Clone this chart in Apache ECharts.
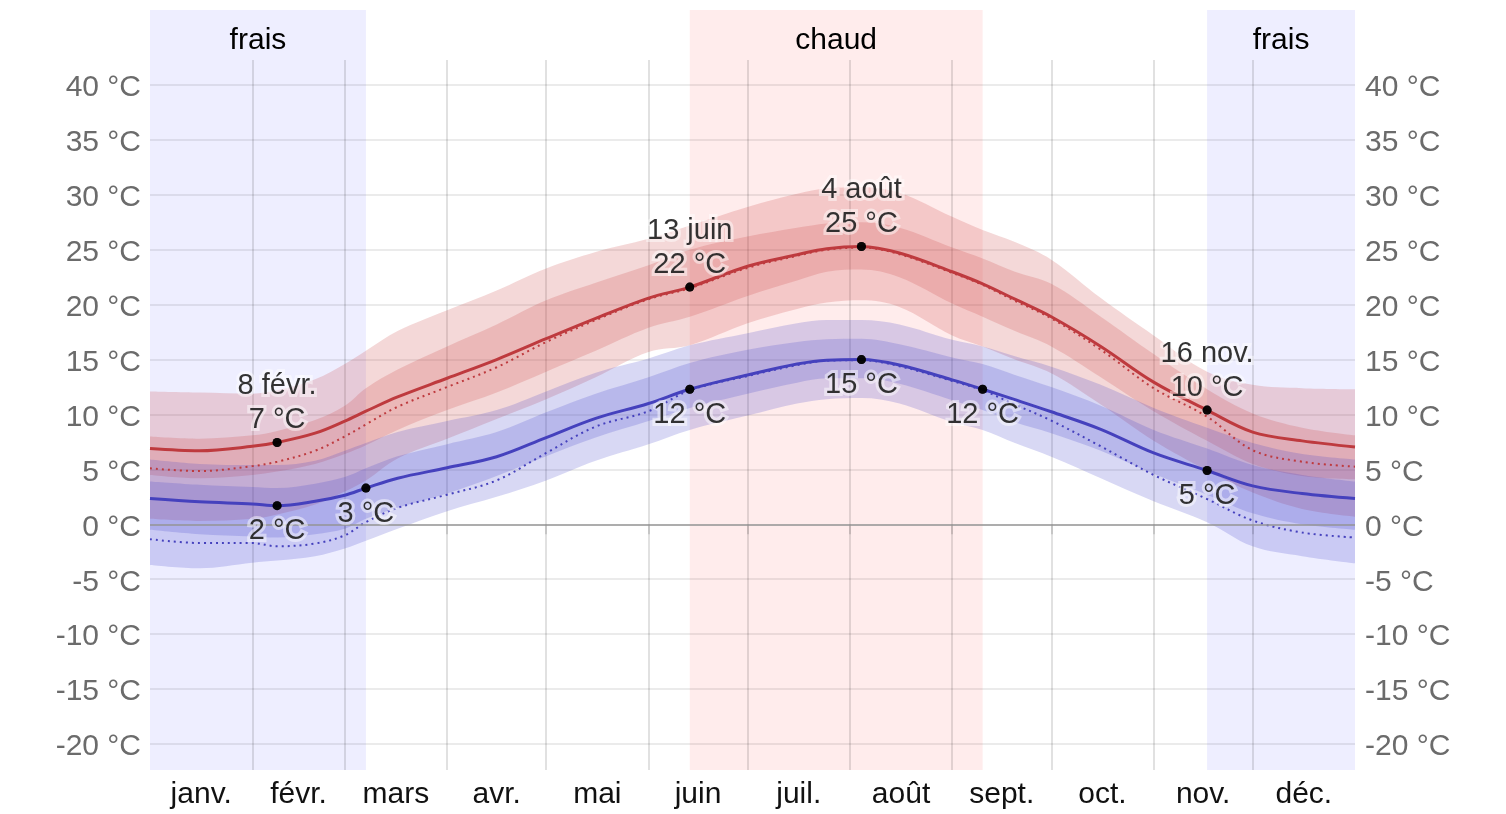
<!DOCTYPE html>
<html>
<head>
<meta charset="utf-8">
<script src="https://cdn.jsdelivr.net/npm/echarts@6/dist/echarts.min.js"></script>
<style>html,body{margin:0;padding:0;background:#fff}#c{width:1506px;height:814px}</style>
</head>
<body>
<div id="c"></div>
<script>
// ---------- data (day of year, 0 = 1 janv.) ----------
const days   = [0, 15, 31, 38.5, 50, 59, 65.4, 75, 90, 105, 120, 135, 151, 163.5, 181, 196, 205, 215.5, 227, 243, 252.2, 262, 273, 288, 304, 320.2, 334, 349, 365];
const hiAvg  = [6.9, 6.7, 7.1, 7.45, 8.3, 9.4, 10.3, 11.6, 13.3, 15.0, 16.9, 18.75, 20.6, 21.6, 23.5, 24.55, 25.1, 25.3, 24.7, 23.0, 21.9, 20.5, 18.9, 16.2, 12.95, 10.4, 8.4, 7.6, 7.05];
const loAvg  = [2.35, 2.05, 1.85, 1.7, 2.1, 2.65, 3.3, 4.2, 5.15, 6.15, 7.9, 9.65, 11.0, 12.3, 13.6, 14.6, 14.95, 15.0, 14.5, 13.15, 12.3, 11.35, 10.25, 8.65, 6.5, 4.9, 3.5, 2.8, 2.35];
const hiFeel = [5.1, 4.85, 5.3, 5.7, 6.7, 8.0, 9.1, 10.7, 12.5, 14.3, 16.6, 18.6, 20.5, 21.5, 23.35, 24.45, 25.0, 25.2, 24.6, 22.9, 21.8, 20.35, 18.75, 15.9, 12.4, 9.8, 6.75, 5.7, 5.25];
const loFeel = [-1.35, -1.7, -1.7, -2.0, -1.75, -1.0, 0.2, 1.5, 2.7, 4.0, 6.5, 8.9, 10.3, 12.2, 13.5, 14.5, 14.9, 14.95, 14.4, 13.05, 12.2, 10.9, 9.45, 7.1, 4.5, 2.3, 0.35, -0.75, -1.2];
const hiP90  = [12.1, 12.0, 11.9, 12.2, 13.2, 14.6, 15.8, 17.6, 19.5, 21.3, 23.3, 24.8, 26.0, 27.2, 28.9, 30.1, 30.6, 30.7, 30.2, 28.0, 26.8, 25.7, 24.1, 20.6, 17.2, 13.9, 12.7, 12.4, 12.3];
const hiP75  = [8.0, 7.8, 8.1, 8.5, 9.5, 10.8, 12.4, 14.1, 16.2, 18.2, 20.4, 22.0, 23.6, 25.0, 26.2, 27.0, 27.4, 27.5, 27.0, 25.2, 24.2, 23.0, 21.9, 18.9, 15.5, 12.3, 10.1, 8.8, 8.1];
const hiP25  = [4.5, 4.2, 4.5, 4.8, 5.5, 6.4, 7.2, 8.6, 10.4, 12.0, 13.9, 15.8, 17.9, 18.9, 20.8, 22.2, 23.0, 23.2, 22.5, 20.1, 18.9, 17.6, 16.2, 13.4, 10.3, 7.6, 5.5, 4.4, 4.1];
const hiP10  = [0.5, 0.3, 0.5, 0.9, 1.8, 3.0, 4.0, 6.0, 7.8, 9.6, 11.4, 13.4, 15.7, 16.3, 18.3, 19.6, 20.2, 20.4, 19.8, 17.2, 16.2, 15.0, 13.75, 10.9, 7.6, 4.9, 2.9, 1.4, 0.7];
const loP90  = [5.9, 5.5, 5.4, 5.4, 5.8, 6.7, 7.4, 8.4, 9.4, 10.4, 12.1, 13.8, 15.1, 16.3, 17.4, 18.3, 18.6, 18.6, 18.2, 16.8, 16.2, 15.3, 14.35, 12.7, 10.6, 8.8, 7.4, 6.4, 5.9];
const loP75  = [3.9, 3.6, 3.4, 3.3, 3.7, 4.3, 5.1, 6.2, 7.3, 8.4, 10.2, 11.9, 13.4, 14.7, 15.9, 16.6, 16.85, 16.9, 16.4, 15.2, 14.6, 13.6, 12.5, 10.8, 8.6, 6.9, 5.4, 4.5, 3.9];
const loP25  = [-0.5, -0.9, -1.1, -1.2, -0.9, -0.4, 0.5, 1.5, 2.8, 4.4, 6.2, 7.9, 9.4, 10.6, 11.9, 12.9, 13.3, 13.3, 12.8, 11.3, 10.4, 9.3, 8.3, 6.7, 4.6, 2.7, 1.0, 0.0, -0.5];
const loP10  = [-3.7, -4.0, -3.5, -3.3, -2.9, -2.2, -1.5, -0.4, 1.2, 2.5, 4.0, 5.8, 7.3, 8.6, 9.9, 11.0, 11.4, 11.5, 11.0, 9.3, 8.6, 7.4, 6.15, 4.2, 2.1, 0.2, -2.0, -2.9, -3.55];

const monthNames  = ['janv.', 'févr.', 'mars', 'avr.', 'mai', 'juin', 'juil.', 'août', 'sept.', 'oct.', 'nov.', 'déc.'];
const monthStarts = [31, 59, 90, 120, 151, 181, 212, 243, 273, 304, 334];
const monthMids   = [15.5, 45, 74.5, 105, 135.5, 166, 196.5, 227.5, 258, 288.5, 319, 349.5];
const yTicks      = [-20, -15, -10, -5, 0, 5, 10, 15, 20, 25, 30, 35, 40];

const seasonStart = [0, 163.5, 320.2];
const seasonEnd   = [65.4, 252.2, 365];
const seasonNames = ['frais', 'chaud', 'frais'];

const annDays   = [38.5, 38.5, 65.4, 163.5, 163.5, 215.5, 215.5, 252.2, 320.2, 320.2];
const annValues = [7.45, 1.7, 3.3, 21.6, 12.3, 25.3, 15.0, 12.3, 10.4, 4.9];
const annLabels = ['8 févr.\n7 °C', '2 °C', '3 °C', '13 juin\n22 °C', '12 °C', '4 août\n25 °C', '15 °C', '12 °C', '16 nov.\n10 °C', '5 °C'];
const annPos    = ['top', 'bottom', 'bottom', 'top', 'bottom', 'top', 'bottom', 'bottom', 'top', 'bottom'];

// ---------- helpers ----------
const FONT = '"Liberation Sans", Arial, Helvetica, sans-serif';
const Y_MIN = -22.37, Y_MAX = 42.28, BAND_TOP = 46.83, HEADER_Y = 44.0;
const T0 = Date.UTC(2023, 0, 1), DAY = 86400000;
const ts = d => T0 + d * DAY;
const pts = arr => days.map((d, i) => [ts(d), arr[i]]);
const spread = (lo, hi) => days.map((d, i) => [ts(d), +(hi[i] - lo[i]).toFixed(3)]);

const RED = '#be3a3e', BLUE = '#4541bd';
const RED_BAND = 'rgba(200,60,62,0.2)', BLUE_BAND = 'rgba(62,62,200,0.2)';
const seasonColors = { frais: '#eeeeff', chaud: '#ffecec' };
const VLINE = 'rgba(0,0,0,0.16)', HLINE = 'rgba(0,0,0,0.08)';

function band(lo, hi, color, key) {
  const common = { type: 'line', xAxisIndex: 1, yAxisIndex: 0, stack: key, stackStrategy: 'all',
    smooth: 0.35, symbol: 'none', silent: true, z: 2, lineStyle: { width: 0, opacity: 0 } };
  return [
    Object.assign({}, common, { data: pts(lo) }),
    Object.assign({}, common, { data: spread(lo, hi), areaStyle: { color: color, opacity: 1 } })
  ];
}

function annData() {
  return annDays.map((d, i) => ({
    value: [ts(d), annValues[i]],
    label: { position: annPos[i], distance: annPos[i] === 'top' ? 1 : 4 }
  }));
}

const yLabel = (margin) => ({
  customValues: yTicks, margin: margin,
  formatter: v => '{t|' + v + ' °C}',
  rich: { t: { fontSize: 30, color: '#6b6b6b', fontFamily: FONT, padding: [6, 0, 0, 0] } }
});

const series = [];
series.push({
  type: 'custom', xAxisIndex: 0, yAxisIndex: 0, z: -1, silent: true, clip: false,
  data: seasonStart.map((s, i) => [s, seasonEnd[i], 0]),
  encode: { x: [0, 1], y: 2 },
  renderItem: function (params, api) {
    const i = params.dataIndex;
    const s = api.value(0), e = api.value(1);
    const p1 = api.coord([s, BAND_TOP]);
    const p2 = api.coord([e, Y_MIN]);
    const pc = api.coord([(s + e) / 2, HEADER_Y]);
    return { type: 'group', children: [
      { type: 'rect', shape: { x: p1[0], y: p1[1], width: p2[0] - p1[0], height: p2[1] - p1[1] },
        style: { fill: seasonColors[seasonNames[i]] } },
      { type: 'text', x: pc[0], y: pc[1],
        style: { text: seasonNames[i], fill: '#000', font: '30px ' + FONT, align: 'center', verticalAlign: 'middle' } }
    ] };
  }
});
series.push(...band(hiP10, hiP90, RED_BAND, 'hiOuter'));
series.push(...band(hiP25, hiP75, RED_BAND, 'hiInner'));
series.push(...band(loP10, loP90, BLUE_BAND, 'loOuter'));
series.push(...band(loP25, loP75, BLUE_BAND, 'loInner'));
series.push({ type: 'line', xAxisIndex: 1, yAxisIndex: 0, data: pts(hiFeel), smooth: 0.35, symbol: 'none', silent: true, z: 3,
  lineStyle: { color: RED, width: 2, type: [2, 4] } });
series.push({ type: 'line', xAxisIndex: 1, yAxisIndex: 0, data: pts(loFeel), smooth: 0.35, symbol: 'none', silent: true, z: 3,
  lineStyle: { color: BLUE, width: 2, type: [2, 4] } });
series.push({ type: 'line', xAxisIndex: 1, yAxisIndex: 0, data: pts(hiAvg), smooth: 0.35, symbol: 'none', silent: true, z: 4,
  lineStyle: { color: RED, width: 3 },
  markLine: { silent: true, symbol: 'none', label: { show: false }, data: [{ yAxis: 0 }],
    lineStyle: { color: '#999', width: 1.5, type: 'solid' } } });
series.push({ type: 'line', xAxisIndex: 1, yAxisIndex: 0, data: pts(loAvg), smooth: 0.35, symbol: 'none', silent: true, z: 4,
  lineStyle: { color: BLUE, width: 3 } });
// halo layer for annotation labels
series.push({ type: 'scatter', xAxisIndex: 1, yAxisIndex: 0, z: 5, silent: true, symbolSize: 9,
  itemStyle: { color: '#000' },
  data: annData(),
  label: { show: true, formatter: p => annLabels[p.dataIndex], fontSize: 29, lineHeight: 34,
    color: 'rgba(255,255,255,0.6)', fontFamily: FONT, textBorderColor: 'rgba(255,255,255,0.6)', textBorderWidth: 6 } });
// crisp black annotation text on top
series.push({ type: 'scatter', xAxisIndex: 1, yAxisIndex: 0, z: 6, silent: true, symbolSize: 9,
  itemStyle: { color: '#000' },
  data: annData(),
  label: { show: true, formatter: p => annLabels[p.dataIndex], fontSize: 29, lineHeight: 34, color: '#000',
    fontFamily: FONT } });

const chart = echarts.init(document.getElementById('c'), null, { renderer: 'canvas' });
chart.setOption({
  animation: false,
  backgroundColor: '#fff',
  textStyle: { fontFamily: FONT },
  grid: { left: 150, right: 151, top: 60, bottom: 44 },
  xAxis: [
    { type: 'value', min: 0, max: 365, position: 'bottom',
      axisLine: { show: false },
      axisTick: { show: true, customValues: monthStarts, length: 10, lineStyle: { color: VLINE, width: 1.5 } },
      axisLabel: { customValues: monthMids, fontSize: 30, color: '#111', margin: 10, fontFamily: FONT,
        formatter: function (v) {
          let best = 0;
          monthMids.forEach((m, i) => { if (Math.abs(m - v) < Math.abs(monthMids[best] - v)) best = i; });
          return monthNames[best];
        } },
      splitLine: { show: true, lineStyle: { color: VLINE, width: 1.5 } } },
    { type: 'time', min: T0, max: ts(365), position: 'bottom', show: false }
  ],
  yAxis: [
    { type: 'value', min: Y_MIN, max: Y_MAX, position: 'left',
      axisLine: { show: false }, axisTick: { show: false, customValues: yTicks },
      axisLabel: yLabel(9),
      splitLine: { show: true, lineStyle: { color: HLINE, width: 2 } } },
    { type: 'value', min: Y_MIN, max: Y_MAX, position: 'right',
      axisLine: { show: false }, axisTick: { show: false, customValues: yTicks },
      axisLabel: yLabel(10),
      splitLine: { show: false } }
  ],
  series: series
});
</script>
</body>
</html>
